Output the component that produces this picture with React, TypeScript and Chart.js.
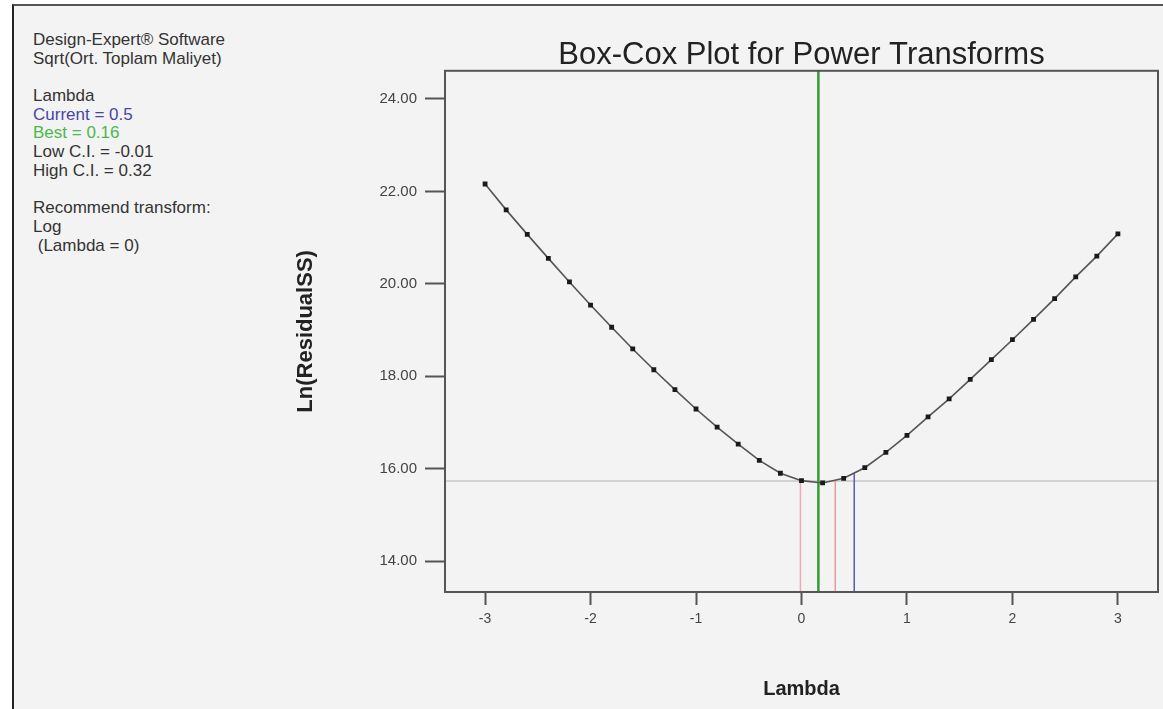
import React, { useEffect, useRef } from 'react';
import { Chart, registerables } from 'chart.js';

Chart.register(...registerables);

// ---- data ----
const LAMBDA = [
  -3, -2.8, -2.6, -2.4, -2.2, -2, -1.8, -1.6, -1.4, -1.2, -1, -0.8, -0.6, -0.4, -0.2,
  0, 0.2, 0.4, 0.6, 0.8, 1, 1.2, 1.4, 1.6, 1.8, 2, 2.2, 2.4, 2.6, 2.8, 3,
];
const LN_RESIDUAL_SS = [
  22.16, 21.6, 21.07, 20.55, 20.04, 19.54, 19.06, 18.59, 18.14, 17.71, 17.29, 16.9, 16.53, 16.18, 15.9,
  15.74, 15.69, 15.79, 16.02, 16.35, 16.72, 17.12, 17.51, 17.93, 18.36, 18.79, 19.23, 19.68, 20.15, 20.6, 21.08,
];
const X_TICKS = [-3, -2, -1, 0, 1, 2, 3];
const Y_TICKS = [14, 16, 18, 20, 22, 24];
const X_RANGE = [-3.38, 3.38];
const Y_RANGE = [13.33, 24.61];
const CI_LEVEL = [15.73];
const LOW_CI = [-0.01];
const HIGH_CI = [0.32];
const CURRENT = [0.5];
const CURRENT_LEVEL = [15.9];
const BEST = [0.16];

const TITLE = 'Box-Cox Plot for Power Transforms';
const X_TITLE = 'Lambda';
const Y_TITLE = 'Ln(ResidualSS)';

const INFO_LINES = [
  'Design-Expert® Software',
  'Sqrt(Ort. Toplam Maliyet)',
  '',
  'Lambda',
  'Current = 0.5',
  'Best = 0.16',
  'Low C.I. = -0.01',
  'High C.I. = 0.32',
  '',
  'Recommend transform:',
  'Log',
  '\u00a0(Lambda = 0)',
];
const INFO_COLORS: Record<number, string> = { 4: '#4646a8', 5: '#4cb84c' };

const FONT = '"Liberation Sans", Arial, Helvetica, sans-serif';

const framePlugin = {
  id: 'plotFrame',
  afterDatasetsDraw(chart: any) {
    const { ctx, chartArea: a } = chart;
    ctx.save();
    ctx.strokeStyle = '#555';
    ctx.lineWidth = 2;
    ctx.strokeRect(a.left, a.top, a.right - a.left, a.bottom - a.top);
    ctx.restore();
  },
};

export default function App() {
  const canvasRef = useRef<HTMLCanvasElement | null>(null);

  useEffect(() => {
    document.body.style.margin = '0';
    const canvas = canvasRef.current;
    if (!canvas) return;
    Chart.defaults.font.family = FONT;

    const vline = (x: number, y0: number, y1: number, color: string, width: number) => ({
      data: [
        { x, y: y0 },
        { x, y: y1 },
      ],
      borderColor: color,
      borderWidth: width,
      pointRadius: 0,
      showLine: true,
    });

    const chart = new Chart(canvas, {
      type: 'scatter',
      data: {
        datasets: [
          {
            data: LAMBDA.map((x, i) => ({ x, y: LN_RESIDUAL_SS[i] })),
            showLine: true,
            borderColor: '#555',
            borderWidth: 1.6,
            pointStyle: 'rect',
            pointRadius: 3.4,
            pointBackgroundColor: '#1a1a1a',
            pointBorderWidth: 0,
          } as any,
          vline(BEST[0], Y_RANGE[0], Y_RANGE[1], '#2f9e2f', 2.5),
          vline(CURRENT[0], Y_RANGE[0], CURRENT_LEVEL[0], '#5a5ab8', 1.5),
          vline(LOW_CI[0], Y_RANGE[0], CI_LEVEL[0], '#f2a9b6', 1.5),
          vline(HIGH_CI[0], Y_RANGE[0], CI_LEVEL[0], '#ee9a90', 1.5),
          {
            data: [
              { x: X_RANGE[0], y: CI_LEVEL[0] },
              { x: X_RANGE[1], y: CI_LEVEL[0] },
            ],
            borderColor: '#d2d2d2',
            borderWidth: 2,
            pointRadius: 0,
            showLine: true,
          },
        ],
      },
      options: {
        animation: false,
        responsive: false,
        events: [],
        layout: { padding: { left: 0, right: 5, top: 0, bottom: 0 } },
        plugins: {
          legend: { display: false },
          tooltip: { enabled: false },
          title: {
            display: true,
            text: TITLE,
            fullSize: false,
            color: '#222',
            font: { size: 31, weight: 'normal', family: FONT, lineHeight: 0.8 },
            padding: { top: 43, bottom: 3 },
          },
        },
        scales: {
          x: {
            type: 'linear',
            min: X_RANGE[0],
            max: X_RANGE[1],
            afterFit: (s: any) => {
              s.height = 117;
            },
            afterBuildTicks: (s: any) => {
              s.ticks = X_TICKS.map((v) => ({ value: v }));
            },
            ticks: {
              callback: (v: any) => String(v),
              color: '#444',
              font: { size: 14 },
              padding: 6,
              maxRotation: 0,
              autoSkip: false,
            },
            grid: {
              drawOnChartArea: false,
              drawTicks: true,
              tickLength: 13,
              tickWidth: 2,
              tickColor: '#555',
            },
            border: { display: false },
            title: {
              display: true,
              text: X_TITLE,
              color: '#222',
              font: { size: 20, weight: 'bold' },
              padding: { top: 0, bottom: 8 },
            },
          },
          y: {
            type: 'linear',
            min: Y_RANGE[0],
            max: Y_RANGE[1],
            afterFit: (s: any) => {
              s.width = 445;
            },
            afterBuildTicks: (s: any) => {
              s.ticks = Y_TICKS.map((v) => ({ value: v }));
            },
            ticks: {
              callback: (v: any) => Number(v).toFixed(2),
              color: '#444',
              font: { size: 15 },
              padding: 8,
              autoSkip: false,
            },
            grid: {
              drawOnChartArea: false,
              drawTicks: true,
              tickLength: 20,
              tickWidth: 2,
              tickColor: '#555',
            },
            border: { display: false },
            title: {
              display: true,
              text: Y_TITLE,
              color: '#222',
              font: { size: 22, weight: 'bold' },
              padding: { top: 293, bottom: 0 },
            },
          },
        },
      } as any,
      plugins: [framePlugin],
    });

    return () => chart.destroy();
  }, []);

  return (
    <div style={{ position: 'relative', width: 1163, height: 709, background: '#fff', overflow: 'hidden' }}>
      <div
        style={{
          position: 'absolute',
          left: 12,
          top: 4,
          right: 0,
          bottom: 0,
          background: '#f3f3f3',
          borderLeft: '2px solid #222',
          borderTop: '2px solid #555',
        }}
      />
      <div
        style={{
          position: 'absolute',
          left: 33,
          top: 31,
          fontFamily: FONT,
          fontSize: 17,
          lineHeight: '18.7px',
          color: '#333',
          whiteSpace: 'pre',
        }}
      >
        {INFO_LINES.map((line, i) => (
          <div key={i} style={{ height: 18.7, color: INFO_COLORS[i] || '#333' }}>
            {line}
          </div>
        ))}
      </div>
      <canvas
        ref={canvasRef}
        width={1163}
        height={709}
        style={{ position: 'absolute', left: 0, top: 0, width: 1163, height: 709 }}
      />
    </div>
  );
}
